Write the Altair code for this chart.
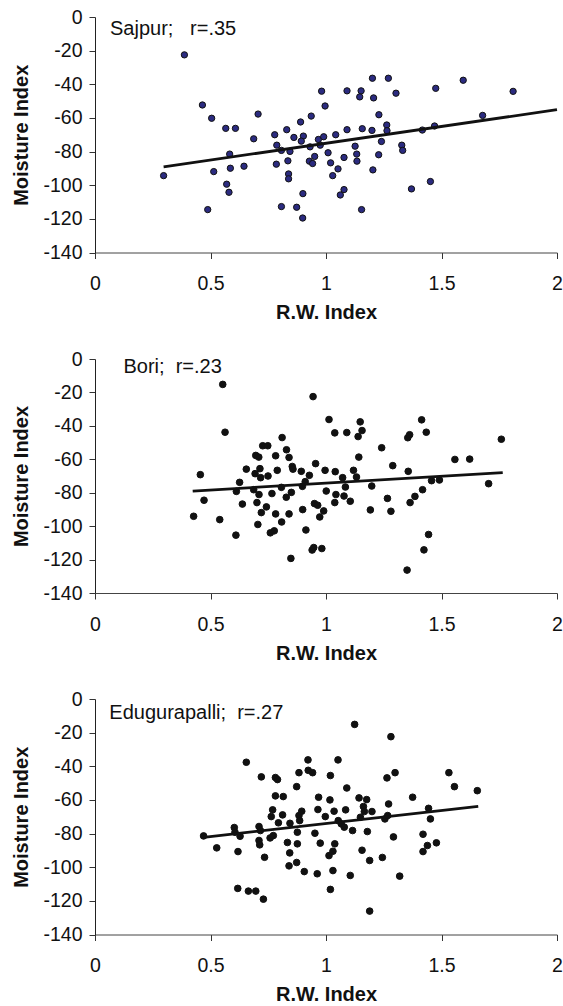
import altair as alt
import pandas as pd

# ---------------- data ----------------
x_ticks = [0, 0.5, 1, 1.5, 2]
y_ticks = [0, -20, -40, -60, -80, -100, -120, -140]

sajpur_x = [0.387, 0.297, 0.465, 0.505, 0.566, 0.608, 0.514, 0.570, 0.580, 0.488,
            0.583, 0.586, 0.645, 0.706, 0.687, 0.778, 0.787, 0.785, 0.807, 0.830,
            0.844, 0.835, 0.838, 0.838, 0.807, 0.873, 0.899, 0.900, 0.890, 0.861,
            0.902, 0.893, 0.936, 0.981, 0.996, 0.931, 0.928, 0.942, 0.951, 0.967,
            0.990, 0.975,
            1.009, 1.042, 1.020, 1.052, 1.029, 1.078, 1.091, 1.091, 1.078, 1.062,
            1.126, 1.133, 1.134, 1.152, 1.146, 1.157, 1.154, 1.201, 1.206, 1.199,
            1.228, 1.203, 1.240, 1.229, 1.263, 1.264, 1.270, 1.303, 1.328, 1.332,
            1.370, 1.417, 1.452, 1.470, 1.475, 1.594, 1.678, 1.810]
sajpur_y = [-22.5, -94.3, -52.3, -60.2, -66.2, -66.2, -91.9, -99.4, -104.2, -114.5,
            -81.5, -89.9, -88.7, -57.7, -72.4, -70.0, -76.2, -87.5, -79.3, -67.0,
            -79.9, -85.5, -93.3, -96.2, -112.7, -113.1, -119.5, -105.0, -62.4, -71.6,
            -70.8, -73.8, -58.9, -44.1, -52.9, -77.2, -85.7, -87.1, -82.9, -72.8,
            -71.2, -76.2,
            -80.7, -70.0, -86.7, -90.3, -94.3, -83.5, -67.0, -43.9, -102.6, -105.8,
            -76.8, -81.5, -85.7, -43.9, -47.5, -66.4, -114.5, -36.4, -48.1, -67.4,
            -81.9, -90.9, -74.0, -58.1, -64.2, -67.6, -36.4, -45.3, -76.2, -79.3,
            -102.2, -67.2, -97.8, -64.8, -42.4, -37.6, -58.5, -44.2]

bori_x = [0.553, 0.563, 0.456, 0.472, 0.427, 0.540, 0.610, 0.612, 0.626, 0.638,
          0.655, 0.687, 0.693, 0.696, 0.709, 0.714, 0.717, 0.701, 0.710, 0.705,
          0.720, 0.726, 0.748, 0.742, 0.749, 0.766, 0.759, 0.776, 0.782, 0.782,
          0.789, 0.807, 0.810, 0.808, 0.828, 0.829, 0.840, 0.840, 0.850, 0.848,
          0.854, 0.857, 0.893, 0.898, 0.899, 0.913, 0.910, 0.928, 0.944, 0.955,
          0.940, 0.947, 0.982, 0.950, 0.964, 0.973, 0.990, 0.996, 1.001, 1.013,
          1.038, 1.040, 1.043, 1.038, 1.072, 1.078, 1.084, 1.090, 1.105, 1.119,
          1.132, 1.142, 1.139, 1.148, 1.156, 1.192, 1.198, 1.241, 1.266, 1.281,
          1.289, 1.351, 1.354, 1.362, 1.356, 1.364, 1.385, 1.414, 1.418, 1.424,
          1.434, 1.444, 1.457, 1.491, 1.558, 1.622, 1.704, 1.759]
bori_y = [-15.2, -43.8, -69.2, -84.5, -94.1, -96.1, -105.4, -79.2, -73.8, -86.8,
          -65.9, -78.2, -68.6, -57.7, -58.7, -65.6, -71.0, -85.9, -81.1, -99.0,
          -91.9, -51.9, -51.9, -88.5, -70.0, -80.5, -104.0, -102.8, -57.9, -92.7,
          -66.6, -76.8, -47.0, -97.5, -82.7, -54.3, -58.9, -92.7, -79.8, -119.3,
          -64.3, -65.9, -67.2, -76.2, -90.1, -102.3, -73.4, -69.6, -22.5, -62.6,
          -114.3, -112.8, -113.4, -86.5, -87.5, -94.5, -90.9, -66.6, -79.0, -36.2,
          -44.2, -67.4, -81.1, -85.9, -71.0, -82.0, -76.6, -44.0, -85.1, -66.6,
          -70.6, -58.7, -46.4, -37.6, -42.8, -90.3, -76.0, -53.1, -83.4, -91.1,
          -63.8, -126.3, -47.1, -45.3, -67.2, -85.9, -82.2, -36.4, -78.2, -114.2,
          -43.8, -105.0, -72.8, -72.4, -60.1, -59.9, -74.6, -48.0]

edu_x = [0.470, 0.527, 0.603, 0.606, 0.619, 0.618, 0.628, 0.655, 0.664, 0.696,
         0.720, 0.729, 0.710, 0.716, 0.710, 0.713, 0.734, 0.763, 0.769, 0.781,
         0.790, 0.781, 0.815, 0.758, 0.772, 0.794, 0.812, 0.833, 0.843, 0.840,
         0.873, 0.873, 0.883, 0.844, 0.876, 0.876, 0.883, 0.895, 0.886, 0.906,
         0.922, 0.923, 0.942, 0.952, 0.962, 0.968, 0.965, 0.975, 0.997, 1.013,
         1.019, 1.017, 1.019,
         1.030, 1.038, 1.030, 1.035, 1.052, 1.053, 1.066, 1.079, 1.085, 1.090,
         1.105, 1.115, 1.124, 1.143, 1.156, 1.162, 1.166, 1.149, 1.176, 1.179,
         1.189, 1.189, 1.199, 1.244, 1.255, 1.267, 1.264, 1.271, 1.281, 1.292,
         1.299, 1.319, 1.375, 1.420, 1.420, 1.439, 1.444, 1.452, 1.478, 1.532,
         1.556, 1.655]
edu_y = [-81.4, -88.5, -76.4, -79.2, -90.7, -112.6, -81.6, -37.6, -114.2, -114.2,
         -46.3, -119.0, -75.8, -78.2, -84.1, -86.7, -94.1, -69.9, -65.9, -46.7,
         -47.9, -57.6, -58.0, -82.6, -81.2, -73.6, -68.9, -85.3, -91.5, -99.2,
         -97.2, -52.1, -43.8, -73.9, -79.2, -86.1, -69.3, -66.7, -72.3, -102.6,
         -36.2, -42.4, -43.8, -79.8, -103.9, -58.4, -65.7, -85.7, -69.9, -93.1,
         -45.5, -60.0, -113.2,
         -90.5, -86.1, -102.0, -66.7, -36.2, -72.3, -74.2, -76.2, -65.9, -52.9,
         -104.9, -78.2, -15.1, -58.8, -89.9, -63.9, -66.9, -70.3, -59.8, -78.8,
         -96.0, -126.1, -66.9, -94.2, -71.3, -69.3, -46.9, -62.4, -22.4, -82.0,
         -43.8, -105.3, -58.4, -80.4, -90.7, -87.1, -65.0, -71.3, -85.5, -43.8,
         -52.1, -54.5]

# fitted lines (end points)
sajpur_line_x = [0.297, 2.0]
sajpur_line_y = [-89.1, -55.1]
bori_line_x = [0.423, 1.765]
bori_line_y = [-79.0, -68.0]
edu_line_x = [0.470, 1.659]
edu_line_y = [-82.2, -63.8]

# panel captions
captions = ["Sajpur;\u00a0\u00a0\u00a0r=.35", "Bori;\u00a0\u00a0r=.23", "Edugurapalli;\u00a0\u00a0r=.27"]
caption_x = [0.065, 0.123, 0.062]
caption_y = [-10.6, -8.4, -11.9]

FONT = "Liberation Sans"


def panel(xs, ys, lx, ly, cap, cx, cy, fill, stroke, size, height):
    pts = pd.DataFrame({"x": xs, "y": ys})
    ln = pd.DataFrame({"x": lx, "y": ly})
    tx = pd.DataFrame({"x": [cx], "y": [cy], "t": [cap]})
    xenc = alt.X("x:Q", scale=alt.Scale(domain=[0, 2], nice=False, zero=False),
                 axis=alt.Axis(values=x_ticks, title="R.W. Index", labelExpr="'' + datum.value",
                               tickSize=6, labelPadding=16, titlePadding=9.5, labelFlush=False,
                               domainColor="#444"))
    yenc = alt.Y("y:Q", scale=alt.Scale(domain=[-140, 0], nice=False, zero=False),
                 axis=alt.Axis(values=y_ticks, title="Moisture Index", labelExpr="'' + datum.value",
                               tickSize=6, labelPadding=7, titlePadding=11, labelFlush=False,
                               domainColor="#222"))
    p = alt.Chart(pts).mark_point(filled=True, shape="circle", size=size, fill=fill,
                                  stroke=stroke, strokeWidth=1, opacity=1).encode(x=xenc, y=yenc)
    l = alt.Chart(ln).mark_line(color="#111", strokeWidth=2.8).encode(x=xenc, y=yenc)
    t = alt.Chart(tx).mark_text(align="left", baseline="alphabetic", font=FONT, fontSize=20,
                                color="#111").encode(x=xenc, y=yenc, text="t:N")
    return alt.layer(p, l, t).properties(width=462, height=height)


c1 = panel(sajpur_x, sajpur_y, sajpur_line_x, sajpur_line_y, captions[0], caption_x[0], caption_y[0],
           "#2b2b80", "#111", 40, 235.5)
c2 = panel(bori_x, bori_y, bori_line_x, bori_line_y, captions[1], caption_x[1], caption_y[1],
           "#111", "#111", 44, 234)
c3 = panel(edu_x, edu_y, edu_line_x, edu_line_y, captions[2], caption_x[2], caption_y[2],
           "#111", "#111", 44, 235.5)

chart = alt.vconcat(c1, c2, c3, spacing=106, bounds="flush").properties(
    padding={"left": 11, "top": 7, "right": 0, "bottom": 0},
    background="white",
).configure_view(stroke=None).configure_axis(
    grid=False,
    labelFont=FONT, labelFontSize=19.5, labelColor="#111",
    titleFont=FONT, titleFontSize=20, titleFontWeight="bold", titleColor="#111",
    tickColor="#333",
)

chart.save("out.html", embed_options={"renderer": "svg", "actions": False})
